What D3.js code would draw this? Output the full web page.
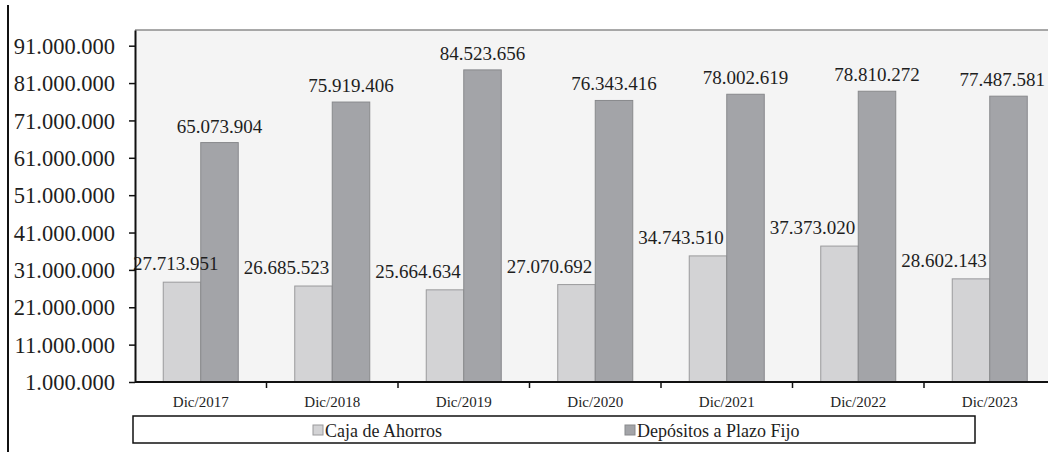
<!DOCTYPE html>
<html>
<head>
<meta charset="utf-8">
<script src="https://cdn.jsdelivr.net/npm/d3@7"></script>
<style>
  html, body { margin: 0; padding: 0; background: #ffffff; }
  svg { display: block; }
  svg text { font-family: "Liberation Serif", "DejaVu Serif", serif; }
</style>
</head>
<body>
<svg id="chart" width="1048" height="452"></svg>
<script>
// Saldos a fin de diciembre por tipo de depósito
const years = ["Dic/2017", "Dic/2018", "Dic/2019", "Dic/2020", "Dic/2021", "Dic/2022", "Dic/2023"];
const cajaAhorros = [27713951, 26685523, 25664634, 27070692, 34743510, 37373020, 28602143];
const plazoFijo = [65073904, 75919406, 84523656, 76343416, 78002619, 78810272, 77487581];
const seriesNames = ["Caja de Ahorros", "Depósitos a Plazo Fijo"];
const yTicks = [1000000, 11000000, 21000000, 31000000, 41000000, 51000000, 61000000, 71000000, 81000000, 91000000];

const SERIF = "Liberation Serif";
const colors = { fill: ["#d3d3d5", "#a3a4a8"], stroke: ["#9a9a9c", "#88898c"] };
const fmt = v => d3.format(",")(v).replace(/,/g, ".");

const svg = d3.select("#chart");
const W = 1048;
const plot = { left: 135, top: 30, bottom: 382, right: 135 + 7 * 131.5 };

const x = d3.scaleBand().domain(years).range([plot.left, plot.right]).padding(0);
const xs = d3.scaleBand().domain(seriesNames).range([0, x.bandwidth()]).paddingInner(0).paddingOuter(0.753);
const y = d3.scaleLinear().domain([1000000, 95200000]).range([plot.bottom, plot.top]);

// outer frame line on the left
svg.append("line").attr("x1", 8).attr("x2", 8).attr("y1", 5).attr("y2", 452)
  .attr("stroke", "#111").attr("stroke-width", 2);

// plot area
svg.append("rect").attr("x", plot.left).attr("y", plot.top)
  .attr("width", plot.right - plot.left).attr("height", plot.bottom - plot.top)
  .attr("fill", "#f4f4f4");
svg.append("line").attr("x1", plot.left).attr("x2", plot.right)
  .attr("y1", plot.top).attr("y2", plot.top)
  .attr("stroke", "#8c8c8c").attr("stroke-width", 1.5);

const rows = years.map((yr, i) => ({ year: yr, values: [cajaAhorros[i], plazoFijo[i]] }));

const groups = svg.append("g").selectAll("g").data(rows).join("g")
  .attr("transform", d => `translate(${x(d.year)},0)`);

groups.selectAll("rect").data(d => d.values.map((v, k) => ({ v, k }))).join("rect")
  .attr("x", d => xs(seriesNames[d.k]))
  .attr("y", d => y(d.v))
  .attr("width", xs.bandwidth())
  .attr("height", d => y(1000000) - y(d.v))
  .attr("fill", d => colors.fill[d.k])
  .attr("stroke", d => colors.stroke[d.k])
  .attr("stroke-width", 1);

// value labels, kept within the visible plot width
const labelFont = 19;
function placeLabel(g, gx, cx, yy, value) {
  const t = g.append("text")
    .attr("y", yy)
    .attr("font-family", SERIF).attr("font-size", labelFont)
    .attr("fill", "#1e1e1e").attr("text-anchor", "middle")
    .text(fmt(value));
  const w = t.node().getComputedTextLength();
  const lo = plot.left - 2 - gx + w / 2;
  const hi = W - 3 - gx - w / 2;
  t.attr("x", Math.min(Math.max(cx, lo), hi));
}
groups.each(function (d) {
  const g = d3.select(this);
  const gx = x(d.year);
  // light series: label sits left of its bar
  placeLabel(g, gx, xs(seriesNames[0]) + xs.bandwidth() / 2 - 27, y(d.values[0]) - 12, d.values[0]);
  // dark series: centred over its bar
  placeLabel(g, gx, xs(seriesNames[1]) + xs.bandwidth() / 2, y(d.values[1]) - 10, d.values[1]);
});

// y axis
const yAxis = svg.append("g").attr("transform", `translate(${plot.left},0)`)
  .call(d3.axisLeft(y).tickValues(yTicks).tickFormat(fmt).tickSize(6).tickPadding(14).tickSizeOuter(0));
yAxis.select(".domain").attr("stroke", "#111").attr("stroke-width", 2);
yAxis.selectAll(".tick line").attr("stroke", "#111").attr("stroke-width", 1.5);
yAxis.selectAll(".tick text").attr("font-size", 22.5).attr("fill", "#1e1e1e")
  .attr("font-family", SERIF).attr("dy", "0.34em");

// x axis: ticks at category boundaries, labels centred in each band
const xAxisG = svg.append("g").attr("transform", `translate(0,${plot.bottom})`);
xAxisG.append("line").attr("x1", plot.left).attr("x2", plot.right)
  .attr("stroke", "#111").attr("stroke-width", 2);
xAxisG.selectAll("line.b").data(years.slice(1)).join("line").attr("class", "b")
  .attr("x1", d => x(d)).attr("x2", d => x(d)).attr("y1", 0).attr("y2", 6)
  .attr("stroke", "#111").attr("stroke-width", 1.5);
xAxisG.selectAll("text").data(years).join("text")
  .attr("x", d => x(d) + x.bandwidth() / 2).attr("y", 25)
  .attr("text-anchor", "middle").attr("font-family", SERIF).attr("font-size", 15).attr("fill", "#1e1e1e")
  .text(d => d);

// legend
const leg = svg.append("g");
leg.append("rect").attr("x", 133).attr("y", 416).attr("width", 842).attr("height", 27)
  .attr("fill", "#ffffff").attr("stroke", "#111").attr("stroke-width", 1.5);
const legX = [313, 625];
seriesNames.forEach((name, k) => {
  leg.append("rect").attr("x", legX[k]).attr("y", 425).attr("width", 10).attr("height", 10)
    .attr("fill", colors.fill[k]).attr("stroke", colors.stroke[k]).attr("stroke-width", 1);
  leg.append("text").attr("x", legX[k] + 12).attr("y", 437)
    .attr("font-family", SERIF).attr("font-size", 18).attr("fill", "#1e1e1e").text(name);
});
</script>
</body>
</html>
